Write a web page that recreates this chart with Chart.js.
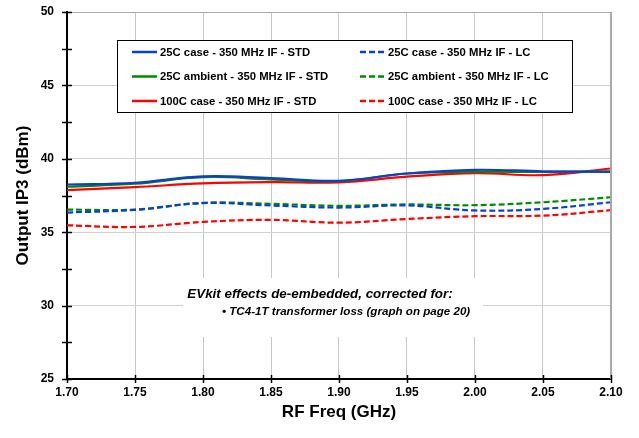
<!DOCTYPE html>
<html>
<head>
<meta charset="utf-8">
<script src="https://cdn.jsdelivr.net/npm/chart.js@4"></script>
<style>
  body { margin: 0; background: #fff; }
  canvas { display: block; }
</style>
</head>
<body>
<canvas id="ip3Chart" width="639" height="438"></canvas>
<script>
// RF frequency points (GHz)
const freq = [1.70, 1.75, 1.80, 1.85, 1.90, 1.95, 2.00, 2.05, 2.10];

// Output IP3 (dBm) - STD parts
const case25Std = [38.25, 38.37, 38.80, 38.68, 38.50, 39.00, 39.25, 39.15, 39.10];
const amb25Std = [38.10, 38.30, 38.75, 38.60, 38.48, 39.00, 39.12, 39.10, 39.15];
const case100Std = [37.86, 38.07, 38.32, 38.41, 38.40, 38.78, 39.02, 38.89, 39.34];

// Output IP3 (dBm) - LC parts
const case25Lc = [36.34, 36.52, 36.98, 36.82, 36.68, 36.82, 36.48, 36.59, 37.04];
const amb25Lc = [36.54, 36.54, 37.00, 36.93, 36.80, 36.89, 36.84, 37.04, 37.38];
const case100Lc = [35.47, 35.36, 35.70, 35.84, 35.65, 35.90, 36.09, 36.13, 36.50];

const seriesLabels = [
  '25C case - 350 MHz IF - STD',
  '25C ambient - 350 MHz IF - STD',
  '100C case - 350 MHz IF - STD',
  '25C case - 350 MHz IF - LC',
  '25C ambient - 350 MHz IF - LC',
  '100C case - 350 MHz IF - LC'
];

const noteTitle = 'EVkit effects de-embedded, corrected for:';
const noteItem = 'TC4-1T transformer loss (graph on page 20)';

const BLUE = '#0a3fd0';
const GREEN = '#008a00';
const RED = '#ff0000';
const FONT = "'Liberation Sans', Arial, sans-serif";

function series(label, ys, color, dashed) {
  return {
    label: label,
    data: freq.map((f, i) => ({ x: f, y: ys[i] })),
    borderColor: color,
    backgroundColor: color,
    borderWidth: 2.2,
    borderDash: dashed ? [6, 3] : [],
    pointRadius: 0,
    tension: 0.4,
    fill: false
  };
}

// legend box, note box, tick marks and outer frame
const decorations = {
  id: 'decorations',
  beforeDatasetsDraw(chart) {
    const ctx = chart.ctx;
    const ds = chart.data.datasets;
    ctx.save();

    // legend
    ctx.fillStyle = '#fff';
    ctx.fillRect(117, 40, 455, 73);
    ctx.strokeStyle = '#000';
    ctx.lineWidth = 1;
    ctx.strokeRect(117.5, 40.5, 455, 72);
    ctx.font = 'bold 11.3px ' + FONT;
    ctx.textBaseline = 'middle';
    ds.forEach((d, i) => {
      const col = i < 3 ? 0 : 1;
      const row = i % 3;
      const x0 = col === 0 ? 132 : 360;
      const y = 52 + row * 24.5;
      ctx.strokeStyle = d.borderColor;
      ctx.lineWidth = 2.5;
      ctx.setLineDash(d.borderDash);
      ctx.beginPath();
      ctx.moveTo(x0, y);
      ctx.lineTo(x0 + 25, y);
      ctx.stroke();
      ctx.setLineDash([]);
      ctx.fillStyle = '#000';
      ctx.fillText(d.label, x0 + 28, y + 0.5);
    });

    // note box
    ctx.fillStyle = '#fff';
    ctx.fillRect(183, 278, 300, 59);
    ctx.fillStyle = '#000';
    ctx.textAlign = 'center';
    ctx.font = 'italic bold 13.4px ' + FONT;
    ctx.fillText(noteTitle, 320, 294);
    ctx.textAlign = 'left';
    ctx.font = 'italic bold 11.6px ' + FONT;
    ctx.fillText('\u2022 ' + noteItem, 222, 312);
    ctx.restore();
  },
  afterDraw(chart) {
    const ctx = chart.ctx;
    const xs = chart.scales.x;
    const ys = chart.scales.y;
    const a = chart.chartArea;
    ctx.save();
    // grey top/right frame
    ctx.strokeStyle = '#a8a8a8';
    ctx.lineWidth = 1;
    ctx.beginPath();
    ctx.moveTo(a.left, a.top + 0.5);
    ctx.lineTo(a.right, a.top + 0.5);
    ctx.stroke();
    ctx.lineWidth = 2;
    ctx.beginPath();
    ctx.moveTo(a.right, a.top);
    ctx.lineTo(a.right, a.bottom);
    ctx.stroke();
    // crossing tick marks
    ctx.strokeStyle = '#000';
    ctx.lineWidth = 1.5;
    ys.ticks.forEach(t => {
      const py = Math.round(ys.getPixelForValue(t.value)) + 0.5;
      ctx.beginPath();
      ctx.moveTo(a.left - 5, py);
      ctx.lineTo(a.left + 5, py);
      ctx.stroke();
    });
    xs.ticks.forEach(t => {
      const px = Math.round(xs.getPixelForValue(t.value)) + 0.5;
      ctx.beginPath();
      ctx.moveTo(px, a.bottom - 4);
      ctx.lineTo(px, a.bottom + 4);
      ctx.stroke();
    });
    ctx.restore();
  }
};

const ctx = document.getElementById('ip3Chart').getContext('2d');
const ip3Chart = new Chart(ctx, {
  type: 'line',
  data: {
    datasets: [
      series(seriesLabels[0], case25Std, BLUE, false),
      series(seriesLabels[1], amb25Std, GREEN, false),
      series(seriesLabels[2], case100Std, RED, false),
      series(seriesLabels[3], case25Lc, BLUE, true),
      series(seriesLabels[4], amb25Lc, GREEN, true),
      series(seriesLabels[5], case100Lc, RED, true)
    ]
  },
  options: {
    responsive: false,
    animation: false,
    layout: { padding: { top: 12, right: 28, left: 0, bottom: 0 } },
    plugins: {
      legend: { display: false },
      tooltip: { enabled: false }
    },
    scales: {
      x: {
        type: 'linear',
        min: 1.70,
        max: 2.10,
        afterFit: s => { s.height = 59; s.paddingLeft = 0; s.paddingRight = 0; },
        afterBuildTicks: s => {
          s.ticks = freq.map(v => ({ value: v }));
        },
        ticks: {
          padding: 6,
          color: '#000',
          font: { family: FONT, size: 12, weight: 'bold' },
          callback: v => v.toFixed(2)
        },
        grid: { color: '#c8c8c8', lineWidth: 1, drawTicks: false },
        border: { color: '#000', width: 2 },
        title: {
          display: true,
          text: 'RF Freq (GHz)',
          color: '#000',
          font: { family: FONT, size: 17, weight: 'bold' },
          padding: { top: 8, bottom: 15 }
        }
      },
      y: {
        min: 25,
        max: 50,
        afterFit: s => { s.width = 67; s.paddingTop = 0; s.paddingBottom = 0; },
        ticks: {
          stepSize: 2.5,
          padding: 13,
          color: '#000',
          font: { family: FONT, size: 12, weight: 'bold' },
          callback: v => (v % 5 === 0 ? v : '')
        },
        grid: {
          drawTicks: false,
          lineWidth: 1,
          color: c => (c.tick && c.tick.value % 5 === 0 ? '#d0d0d0' : 'rgba(0,0,0,0)')
        },
        border: { color: '#000', width: 2 },
        title: {
          display: true,
          text: 'Output IP3 (dBm)',
          color: '#000',
          font: { family: FONT, size: 17, weight: 'bold' },
          padding: { top: 13, bottom: 4 }
        }
      }
    }
  },
  plugins: [decorations]
});
</script>
</body>
</html>
